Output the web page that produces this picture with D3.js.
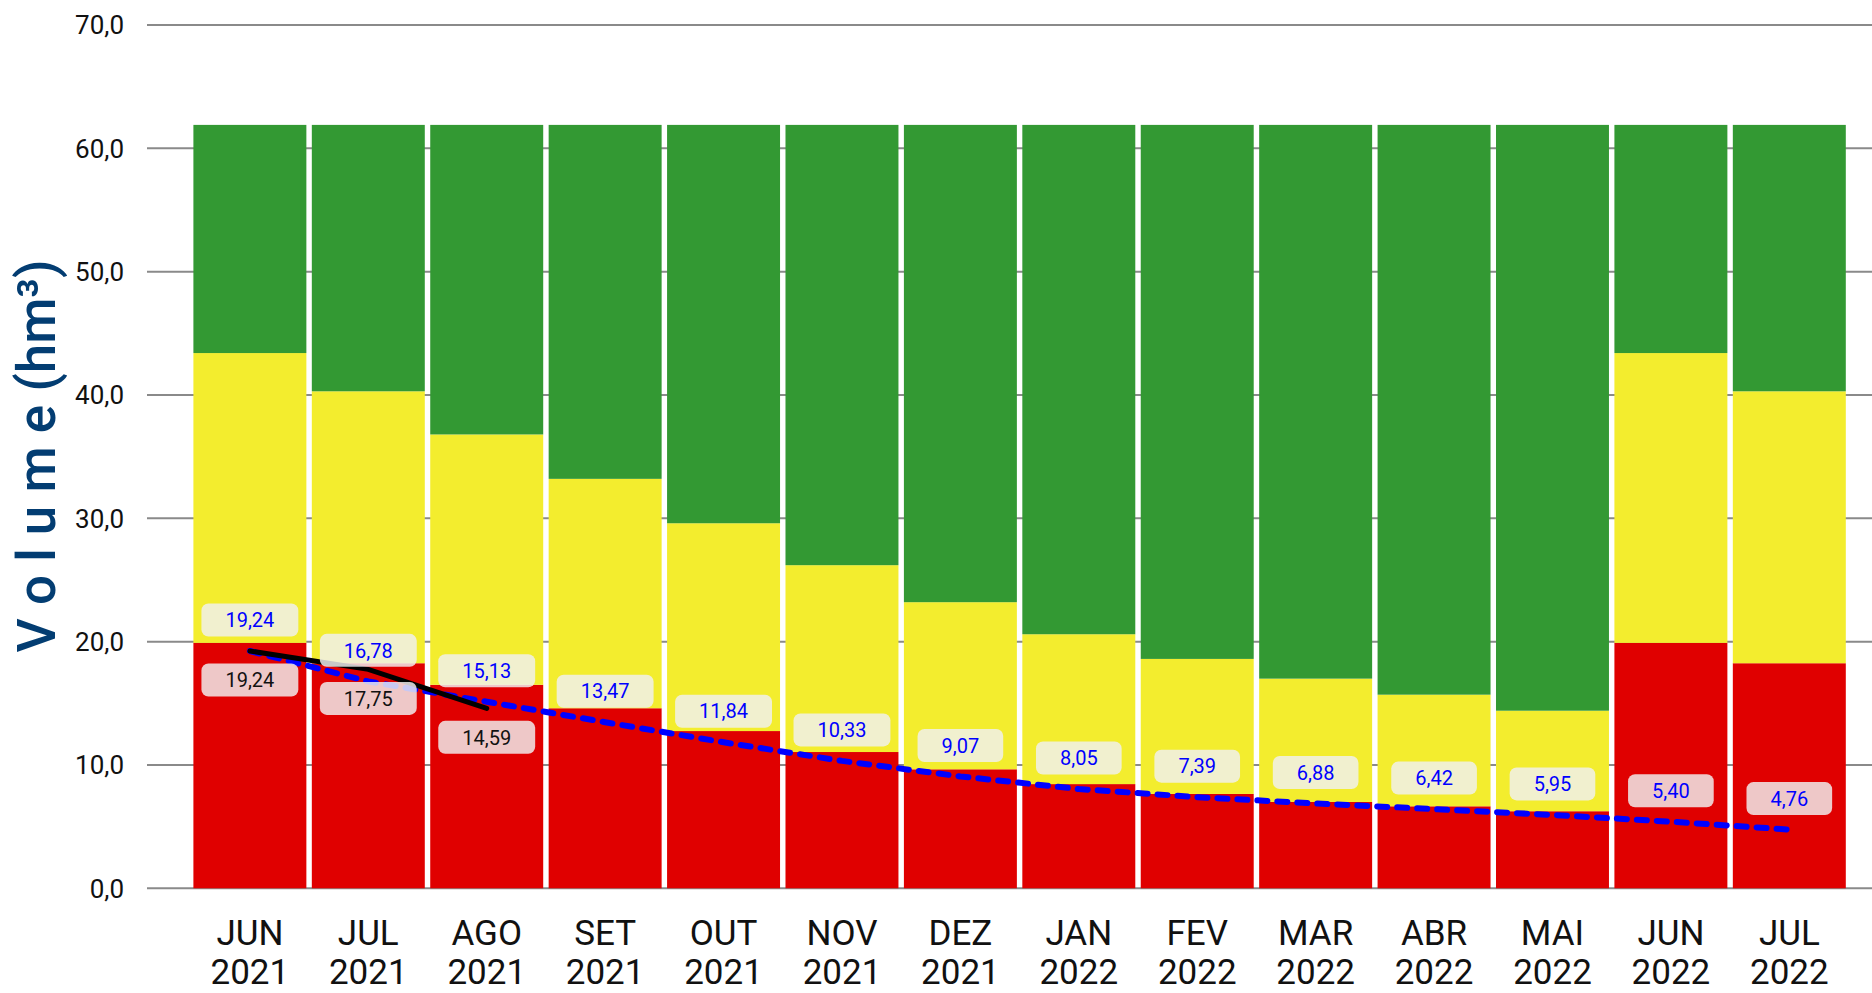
<!DOCTYPE html>
<html>
<head>
<meta charset="utf-8">
<script src="https://d3js.org/d3.v7.min.js"></script>
<style>
  html, body { margin: 0; padding: 0; background: #fff; }
  svg { display: block; }
  text { font-family: Roboto, "Noto Sans", sans-serif; }
</style>
</head>
<body>
<div id="chart"></div>
<script>
// Months (two-line tick labels)
const months = ['JUN', 'JUL', 'AGO', 'SET', 'OUT', 'NOV', 'DEZ', 'JAN', 'FEV', 'MAR', 'ABR', 'MAI', 'JUN', 'JUL'];
const years = ['2021', '2021', '2021', '2021', '2021', '2021', '2021', '2022', '2022', '2022', '2022', '2022', '2022', '2022'];

// Band limits (hm³) - top of each coloured zone
const redTop = [19.9, 18.25, 16.5, 14.6, 12.75, 11.05, 9.65, 8.45, 7.65, 7.0, 6.65, 6.25, 19.9, 18.25];
const yellowTop = [43.4, 40.3, 36.8, 33.2, 29.6, 26.2, 23.2, 20.6, 18.6, 17.0, 15.7, 14.4, 43.4, 40.3];
const greenTop = [61.9, 61.9, 61.9, 61.9, 61.9, 61.9, 61.9, 61.9, 61.9, 61.9, 61.9, 61.9, 61.9, 61.9];

// Projected volume (blue dashed) and observed volume (black)
const projected = [19.24, 16.78, 15.13, 13.47, 11.84, 10.33, 9.07, 8.05, 7.39, 6.88, 6.42, 5.95, 5.40, 4.76];
const observed = [19.24, 17.75, 14.59];

const yTicks = [0, 10, 20, 30, 40, 50, 60, 70];

const width = 1872, height = 993;
const keys = months.map((m, i) => m + ' ' + years[i]);

const svg = d3.select('#chart').append('svg')
    .attr('width', width)
    .attr('height', height);

const x = d3.scaleBand()
    .domain(keys)
    .range([193.4, 1845.8])
    .paddingInner(0.046)
    .paddingOuter(0);

const y = d3.scaleLinear()
    .domain([0, 70])
    .range([888.3, 25]);

const fmt = v => v.toFixed(2).replace('.', ',');
const cx = i => x(keys[i]) + x.bandwidth() / 2;

// Gridlines + y tick labels
const grid = svg.append('g');
grid.selectAll('line')
    .data(yTicks)
    .enter()
    .append('line')
    .attr('x1', 147)
    .attr('x2', width)
    .attr('y1', d => y(d))
    .attr('y2', d => y(d))
    .attr('stroke', '#8a8a8a')
    .attr('stroke-width', 2);

grid.selectAll('text')
    .data(yTicks)
    .enter()
    .append('text')
    .attr('x', 124)
    .attr('y', d => y(d))
    .attr('dy', '0.36em')
    .attr('text-anchor', 'end')
    .attr('font-size', '26px')
    .attr('fill', '#111')
    .text(d => d.toFixed(1).replace('.', ','));

// Y axis title
svg.append('text')
    .attr('transform', 'translate(55,456) rotate(-90)')
    .attr('text-anchor', 'middle')
    .attr('font-size', '53px')
    .attr('font-weight', 500)
    .attr('fill', '#033d72')
    .attr('textLength', 393)
    .attr('lengthAdjust', 'spacing')
    .text('V o l u m e (hm³)');

// Stacked zones
const zones = [
    { lo: () => 0, hi: i => redTop[i], color: '#e00000' },
    { lo: i => redTop[i], hi: i => yellowTop[i], color: '#f3ed2e' },
    { lo: i => yellowTop[i], hi: i => greenTop[i], color: '#339933' }
];

zones.forEach(z => {
    svg.append('g')
        .selectAll('rect')
        .data(keys)
        .enter()
        .append('rect')
        .attr('x', d => x(d))
        .attr('width', x.bandwidth())
        .attr('y', (d, i) => y(z.hi(i)))
        .attr('height', (d, i) => y(z.lo(i)) - y(z.hi(i)))
        .attr('fill', z.color);
});

// X tick labels
const xl = svg.append('g')
    .selectAll('text')
    .data(keys)
    .enter()
    .append('text')
    .attr('text-anchor', 'middle')
    .attr('font-size', '35px')
    .attr('fill', '#111');
xl.append('tspan')
    .attr('x', (d, i) => cx(i))
    .attr('y', 945)
    .text((d, i) => months[i]);
xl.append('tspan')
    .attr('x', (d, i) => cx(i))
    .attr('y', 984)
    .text((d, i) => years[i]);

// Lines
const line = d3.line()
    .x((d, i) => cx(i))
    .y(d => y(d));

svg.append('path')
    .datum(projected)
    .attr('d', line)
    .attr('fill', 'none')
    .attr('stroke', '#0000ff')
    .attr('stroke-width', 6)
    .attr('stroke-linecap', 'round')
    .attr('stroke-dasharray', '10 10');

svg.append('path')
    .datum(observed)
    .attr('d', line)
    .attr('fill', 'none')
    .attr('stroke', '#000')
    .attr('stroke-width', 5)
    .attr('stroke-linecap', 'round');

// Data labels in rounded boxes
function addLabels(values, offset, color) {
    const g = svg.append('g')
        .selectAll('g')
        .data(values)
        .enter()
        .append('g')
        .attr('transform', (d, i) => `translate(${cx(i)},${y(d) + offset})`);

    g.append('text')
        .attr('text-anchor', 'middle')
        .attr('dy', '0.36em')
        .attr('font-size', '20px')
        .attr('fill', color)
        .text(d => fmt(d));

    g.insert('rect', 'text')
        .each(function () {
            const w = this.parentNode.querySelector('text').getComputedTextLength() + 48;
            d3.select(this)
                .attr('x', -w / 2)
                .attr('width', w);
        })
        .attr('y', -16.5)
        .attr('height', 33)
        .attr('rx', 7)
        .attr('fill', '#f0f0f0')
        .attr('fill-opacity', 0.83);
}

addLabels(projected, -31, '#0000ff');
addLabels(observed, 29, '#111');
</script>
</body>
</html>
